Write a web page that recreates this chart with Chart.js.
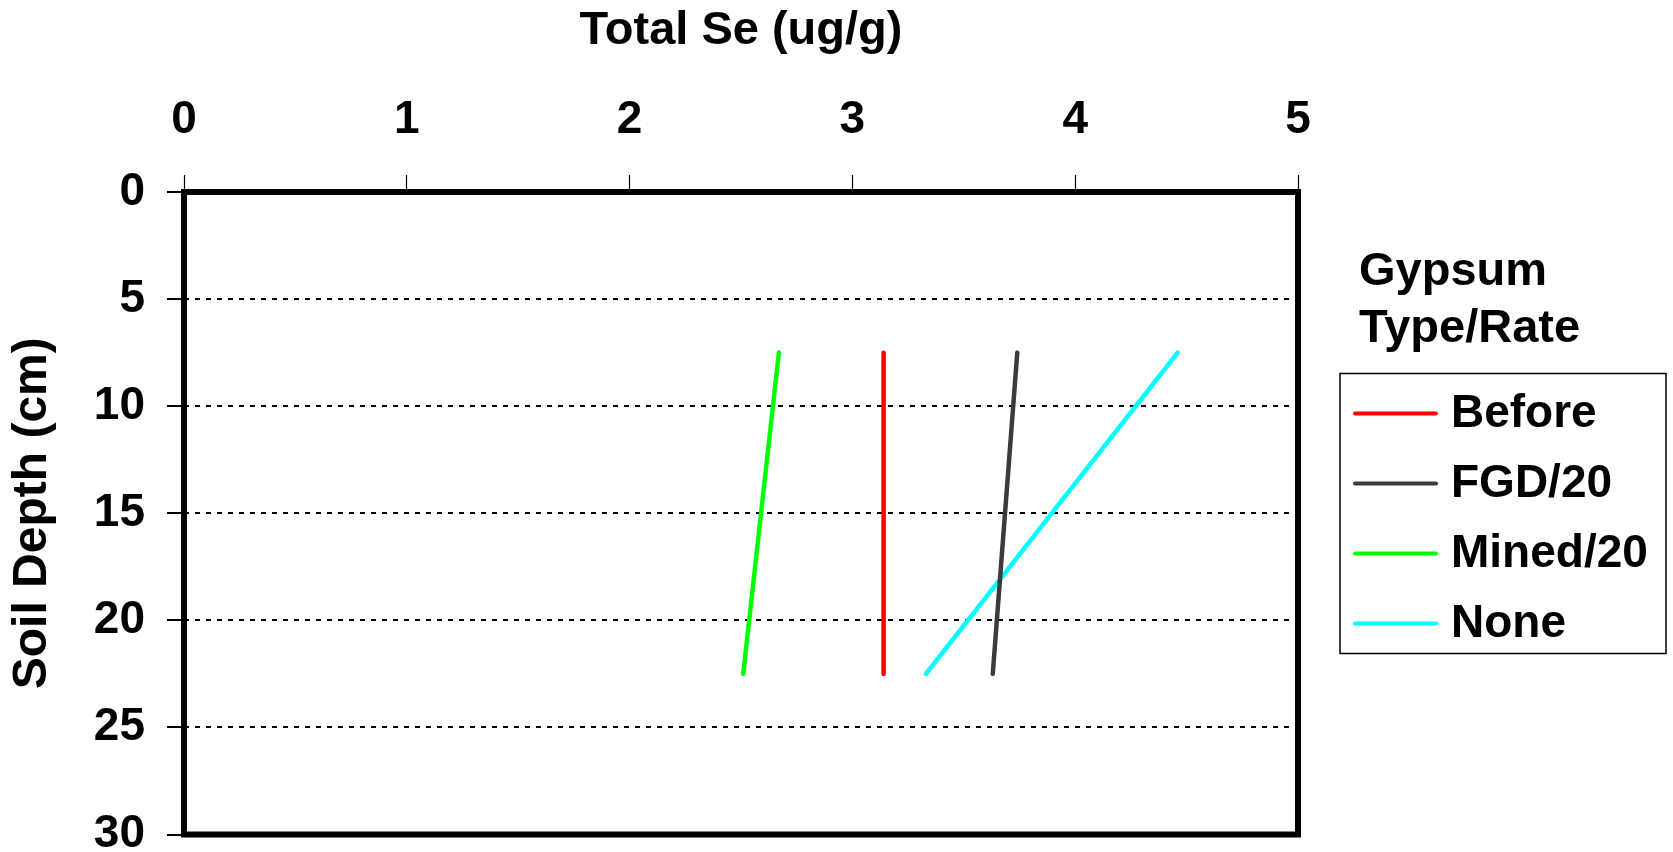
<!DOCTYPE html>
<html>
<head>
<meta charset="utf-8">
<script src="https://cdn.jsdelivr.net/npm/chart.js@4/dist/chart.umd.min.js"></script>
<style>
  html, body { margin: 0; padding: 0; background: #ffffff; }
  #wrap { width: 1673px; height: 852px; }
</style>
</head>
<body>
<div id="wrap"><canvas id="c" width="1673" height="852"></canvas></div>
<script>
// ---- Data ----
const seriesLabels = ['Before', 'FGD/20', 'Mined/20', 'None'];
const seriesColors = ['#ff0000', '#3a3a3a', '#00ff00', '#00ffff'];
const depths = [7.5, 22.5];            // soil depth (cm)
const beforeSe = [3.14, 3.14];         // Total Se (ug/g)
const fgdSe = [3.74, 3.63];
const minedSe = [2.67, 2.51];
const noneSe = [4.46, 3.33];
const xTicks = [0, 1, 2, 3, 4, 5];
const yTicks = [0, 5, 10, 15, 20, 25, 30];
const xTitle = 'Total Se (ug/g)';
const yTitle = 'Soil Depth (cm)';
const legendTitle = ['Gypsum', 'Type/Rate'];

const seriesValues = [beforeSe, fgdSe, minedSe, noneSe];
const FONT = "'Liberation Sans', Arial, sans-serif";

const datasets = seriesLabels.map((lab, i) => ({
  label: lab,
  data: seriesValues[i].map((v, j) => ({ x: v, y: depths[j] })),
  borderColor: seriesColors[i],
  backgroundColor: seriesColors[i],
  borderWidth: 4.5,
  borderCapStyle: 'round',
  showLine: true,
  pointRadius: 0,
  pointHoverRadius: 0,
  tension: 0
}));

const framePlugin = {
  id: 'frame',
  afterDraw(chart) {
    const { ctx, chartArea: a } = chart;
    ctx.save();
    ctx.strokeStyle = '#000';
    ctx.lineWidth = 6;
    ctx.setLineDash([]);
    ctx.strokeRect(a.left, a.top, a.right - a.left, a.bottom - a.top);
    ctx.restore();
  }
};

const legendPlugin = {
  id: 'customLegend',
  afterDraw(chart) {
    const ctx = chart.ctx;
    ctx.save();
    ctx.fillStyle = '#000';
    ctx.textAlign = 'left';
    ctx.textBaseline = 'alphabetic';
    ctx.font = "bold 47px " + FONT;
    ctx.fillText(legendTitle[0], 1359, 285);
    ctx.fillText(legendTitle[1], 1359, 342);
    // box
    ctx.strokeStyle = '#000';
    ctx.lineWidth = 1.5;
    ctx.strokeRect(1340, 373.5, 326, 280);
    // items
    ctx.font = "bold 46px " + FONT;
    ctx.textBaseline = 'middle';
    chart.data.datasets.forEach((ds, i) => {
      const y = 413.5 + 70 * i;
      ctx.beginPath();
      ctx.strokeStyle = ds.borderColor;
      ctx.lineWidth = 4;
      ctx.lineCap = 'round';
      ctx.moveTo(1355, y);
      ctx.lineTo(1436, y);
      ctx.stroke();
      ctx.fillStyle = '#000';
      ctx.fillText(ds.label, 1451, y + 1);
    });
    ctx.restore();
  }
};

new Chart(document.getElementById('c'), {
  type: 'scatter',
  data: { datasets },
  options: {
    responsive: false,
    animation: false,
    devicePixelRatio: 1,
    layout: { padding: { left: 0, top: 0, right: 375, bottom: 17.5 } },
    plugins: {
      legend: { display: false },
      tooltip: { enabled: false }
    },
    scales: {
      x: {
        type: 'linear',
        position: 'top',
        min: 0, max: 5,
        afterBuildTicks: (s) => { s.ticks = xTicks.map(v => ({ value: v })); },
        ticks: {
          color: '#000',
          font: { family: FONT, size: 46, weight: 'bold', lineHeight: 1.2 },
          padding: 27,
          maxRotation: 0
        },
        grid: {
          drawOnChartArea: false,
          drawTicks: true,
          tickLength: 17,
          tickWidth: 1.2,
          tickColor: '#000'
        },
        border: { display: false },
        title: {
          display: true,
          text: xTitle,
          color: '#000',
          font: { family: FONT, size: 47, weight: 'bold', lineHeight: 1.2 },
          padding: { top: 3, bottom: 0 }
        },
        afterFit: (s) => { s.height = 192; s.paddingLeft = 0; s.paddingRight = 0; }
      },
      y: {
        type: 'linear',
        reverse: true,
        min: 0, max: 30,
        afterBuildTicks: (s) => { s.ticks = yTicks.map(v => ({ value: v })); },
        ticks: {
          color: '#000',
          font: { family: FONT, size: 46, weight: 'bold', lineHeight: 1.2 },
          padding: 22
        },
        grid: {
          color: '#000',
          lineWidth: 2,
          drawTicks: true,
          tickLength: 17,
          tickWidth: 2,
          tickColor: '#000'
        },
        border: { display: false, dash: [5, 6] },
        title: {
          display: true,
          text: yTitle,
          color: '#000',
          font: { family: FONT, size: 48, weight: 'bold', lineHeight: 1.2 },
          padding: { top: 4, bottom: 0 }
        },
        afterFit: (s) => { s.width = 184; s.paddingTop = 0; s.paddingBottom = 0; }
      }
    }
  },
  plugins: [framePlugin, legendPlugin]
});
</script>
</body>
</html>
